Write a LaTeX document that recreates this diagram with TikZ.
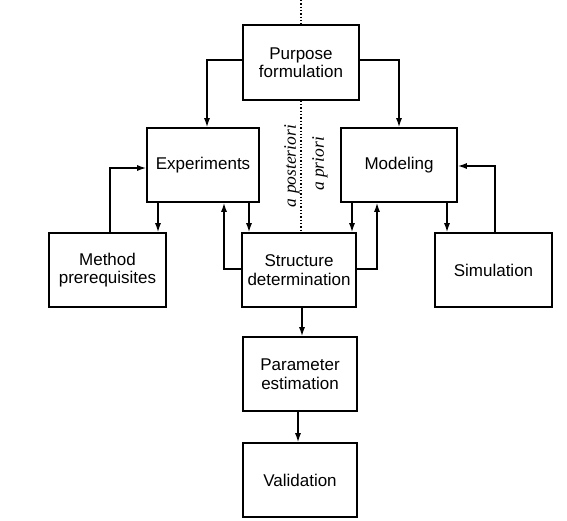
\documentclass[tikz,border=0pt]{standalone}
\usepackage{fontspec}
\setmainfont{Liberation Sans}
\newfontfamily\lblfont{Liberation Serif}
\usetikzlibrary{arrows.meta}
\begin{document}
\begin{tikzpicture}[x=1pt,y=-1pt,
  box/.style={draw, line width=1.6pt, minimum width=115pt, minimum height=74pt,
    inner sep=0pt, align=center, font=\fontsize{17}{18.5}\selectfont},
  arr/.style={line width=1.4pt, -{Latex[length=9pt,width=6pt]}},
  lbl/.style={rotate=90, font=\lblfont\itshape\fontsize{17.5}{18}\selectfont, inner sep=0pt}]
\useasboundingbox (0,0) rectangle (567,520);
\node[box, minimum width=116pt, minimum height=75pt] (P) at (301,62.5) {Purpose\\formulation};
\node[box, minimum width=112pt] (E) at (203,165) {Experiments};
\node[box, minimum width=116pt] (M) at (399,165) {Modeling};
\node[box, minimum width=117pt] (Me) at (107.5,270) {Method\\prerequisites};
\node[box, minimum width=114pt] (S) at (299,270) {Structure\\determination};
\node[box, minimum width=117pt] (Si) at (493.5,270) {Simulation};
\node[box, minimum width=114pt] (Pa) at (300,374) {Parameter\\estimation};
\node[box, minimum width=114pt] (V) at (300,480) {Validation};
\node[lbl] (apost) at (292,166) {a posteriori};
\node[lbl] (apri) at (320,164) {a priori};
\coordinate (top) at (301,0);
\coordinate (xa) at (158,0);
\coordinate (xb) at (249,0);
\coordinate (xc) at (224,0);
\coordinate (xd) at (352,0);
\coordinate (xe) at (377,0);
\coordinate (xf) at (447,0);
\coordinate (xg) at (495,0);
\coordinate (xh) at (110,0);
\coordinate (xi) at (207,0);
\coordinate (xj) at (302,0);
\coordinate (xk) at (298,0);
% dotted separator
\draw[dotted, line width=1.3pt] (top) -- (P.north -| top);
\draw[dotted, line width=1.3pt] (P.south -| top) -- (S.north -| top);
% connectors
\draw[arr] ([yshift=2.5pt]P.west) -| (E.north -| xi);
\draw[arr] ([yshift=2.5pt]P.east) -| (M.north);
\draw[arr] (Me.north -| xh) |- ([yshift=-3pt]E.west);
\draw[arr] (E.south -| xa) -- (Me.north -| xa);
\draw[arr] (E.south -| xb) -- (S.north -| xb);
\draw[arr] ([yshift=1pt]S.west) -| (E.south -| xc);
\draw[arr] (M.south -| xd) -- (S.north -| xd);
\draw[arr] ([yshift=1pt]S.east) -| (M.south -| xe);
\draw[arr] (M.south -| xf) -- (Si.north -| xf);
\draw[arr] (Si.north -| xg) |- ([yshift=-1pt]M.east);
\draw[arr] (S.south -| xj) -- (Pa.north -| xj);
\draw[arr] (Pa.south -| xk) -- (V.north -| xk);
\end{tikzpicture}
\end{document}
